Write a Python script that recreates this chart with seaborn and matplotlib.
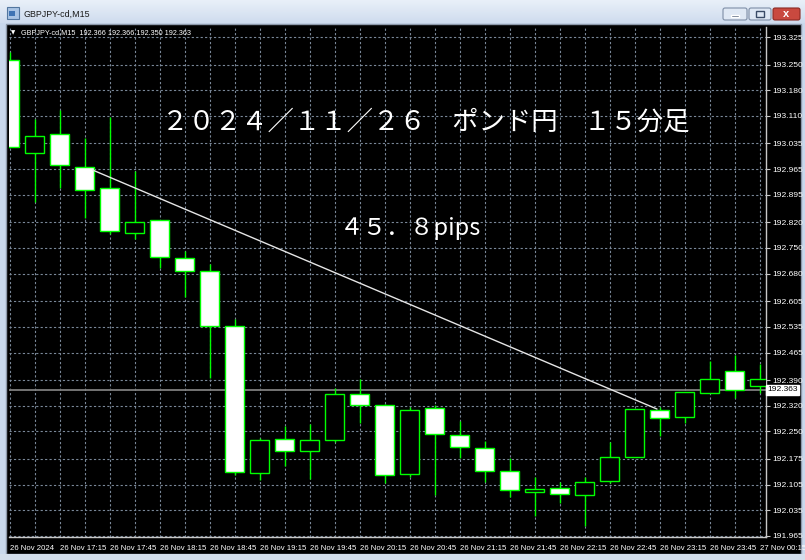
import numpy as np
import pandas as pd
import matplotlib
matplotlib.use("Agg")
import matplotlib.pyplot as plt
import seaborn as sns
from matplotlib.patches import Rectangle, FancyBboxPatch

# ---------------- data ----------------
times = ["16:45", "17:00", "17:15", "17:30", "17:45", "18:00", "18:15", "18:30",
         "18:45", "19:00", "19:15", "19:30", "19:45", "20:00", "20:15", "20:30",
         "20:45", "21:00", "21:15", "21:30", "21:45", "22:00", "22:15", "22:30",
         "22:45", "23:00", "23:15", "23:30", "23:45", "00:00", "00:15"]
opens = [193.262, 193.009, 193.061, 192.971, 192.913, 192.791, 192.826, 192.723,
         192.687, 192.537, 192.137, 192.229, 192.197, 192.227, 192.352, 192.322,
         192.134, 192.314, 192.240, 192.205, 192.142, 192.085, 192.096, 192.077,
         192.115, 192.180, 192.308, 192.289, 192.355, 192.415, 192.374]
highs = [193.284, 193.101, 193.126, 193.050, 193.107, 192.960, 192.826, 192.742,
         192.706, 192.556, 192.232, 192.265, 192.270, 192.368, 192.393, 192.325,
         192.317, 192.322, 192.278, 192.224, 192.178, 192.126, 192.112, 192.126,
         192.221, 192.311, 192.317, 192.357, 192.442, 192.458, 192.434]
lows = [193.025, 192.875, 192.913, 192.832, 192.788, 192.774, 192.695, 192.616,
        192.396, 192.131, 192.118, 192.156, 192.120, 192.221, 192.273, 192.109,
        192.126, 192.077, 192.178, 192.112, 192.071, 192.019, 192.055, 191.992,
        192.109, 192.180, 192.238, 192.273, 192.355, 192.341, 192.355]
closes = [193.025, 193.055, 192.976, 192.908, 192.796, 192.821, 192.725, 192.687,
          192.537, 192.139, 192.227, 192.197, 192.227, 192.352, 192.322, 192.131,
          192.308, 192.243, 192.208, 192.142, 192.090, 192.093, 192.079, 192.112,
          192.180, 192.311, 192.287, 192.357, 192.393, 192.363, 192.393]

ytick_labels = ["193.325", "193.250", "193.180", "193.110", "193.035", "192.965",
                "192.895", "192.820", "192.750", "192.680", "192.605", "192.535",
                "192.465", "192.390", "192.320", "192.250", "192.175", "192.105",
                "192.035", "191.965"]
xtick_labels = ["26 Nov 2024", "26 Nov 17:15", "26 Nov 17:45", "26 Nov 18:15",
                "26 Nov 18:45", "26 Nov 19:15", "26 Nov 19:45", "26 Nov 20:15",
                "26 Nov 20:45", "26 Nov 21:15", "26 Nov 21:45", "26 Nov 22:15",
                "26 Nov 22:45", "26 Nov 23:15", "26 Nov 23:45", "27 Nov 00:15"]

bid_price = 192.363
header_ohlc = ["192.366", "192.366", "192.350", "192.363"]
symbol = "GBPJPY-cd,M15"
trend_x = [3.34, 25.9]
trend_y = [192.962, 192.311]
title_jp = "２０２４／１１／２６　ポンド円　１５分足"
pips_text = "４５．８pips"

df = pd.DataFrame({"time": times, "open": opens, "high": highs,
                   "low": lows, "close": closes})
df["idx"] = np.arange(len(df))
df["bull"] = df["close"] >= df["open"]

# ---------------- style ----------------
sns.set_theme(style="dark", rc={"axes.facecolor": "black"})
plt.rcParams["font.family"] = ["Liberation Sans", "DejaVu Sans"]

W, H = 805, 560
fig = plt.figure(figsize=(W / 100, H / 100), dpi=100, facecolor="#c9d8ec")

# background / window frame
bg = fig.add_axes([0, 0, 1, 1], zorder=-10)
bg.set_xlim(0, W)
bg.set_ylim(H, 0)
bg.axis("off")
grad = np.linspace(0, 1, 50).reshape(-1, 1)
bg.imshow(grad, extent=(0, W, 23, 0), cmap=matplotlib.colors.LinearSegmentedColormap.from_list(
    "tb", ["#e9f0f9", "#cfdcee"]), aspect="auto", zorder=0)
bg.add_patch(Rectangle((5.5, 23.5), 795, 530, facecolor="black",
                       edgecolor="#8d99aa", lw=1, zorder=1))
bg.add_patch(Rectangle((0, 554), W, 6, facecolor="#d3deec", edgecolor="none", zorder=1))
# icon
bg.add_patch(Rectangle((7, 7), 12, 12, facecolor="#a9c4e4", edgecolor="#52769f", lw=0.8, zorder=2))
bg.add_patch(Rectangle((9, 11), 6, 5, facecolor="#3f74b4", edgecolor="none", zorder=3))
# buttons
bg.add_patch(FancyBboxPatch((723, 8), 24, 12, boxstyle="round,pad=0,rounding_size=2",
                            fc="#dfe8f4", ec="#7e8ea6", lw=0.8, zorder=2))
bg.add_patch(Rectangle((731, 14.5), 8, 2, facecolor="#3a4b66", zorder=3))
bg.add_patch(FancyBboxPatch((749, 8), 22, 12, boxstyle="round,pad=0,rounding_size=2",
                            fc="#dfe8f4", ec="#7e8ea6", lw=0.8, zorder=2))
bg.add_patch(Rectangle((756, 11), 8, 6, facecolor="none", edgecolor="#3a4b66", lw=1, zorder=3))
bg.add_patch(FancyBboxPatch((773, 8), 27, 12, boxstyle="round,pad=0,rounding_size=2",
                            fc="#c9493f", ec="#8b2a23", lw=0.8, zorder=2))
bg.text(786.5, 14, "x", color="white", fontsize=8, fontweight="bold",
        ha="center", va="center", zorder=4)

# ---------------- main chart ----------------
k = 0.0027255  # price per pixel
y_top = float(ytick_labels[0]) + 10 * k
y_bot = float(ytick_labels[0]) - 500 * k

ax = fig.add_axes([9 / W, 1 - 537 / H, 757 / W, 510 / H], zorder=0)
ax.set_facecolor("black")
ax.set_xlim(-0.02, 30.26)
ax.set_ylim(y_bot, y_top)

# bid line
ax.axhline(bid_price, color="#7e7e7e", lw=1.3, zorder=1.5)

# wicks
ax.vlines(df["idx"], df["low"], df["high"], color="#00ff00", lw=1, zorder=2)
# bodies
body_bottom = np.minimum(df["open"], df["close"])
body_height = np.maximum(np.abs(df["close"] - df["open"]), 0.0008)
fills = np.where(df["bull"], "black", "white")
ax.bar(df["idx"], body_height, bottom=body_bottom, width=0.75,
       color=fills, edgecolor="#00ff00", linewidth=1, zorder=3)

# trend line
sns.lineplot(x=trend_x, y=trend_y, ax=ax, color="#e6e6e6", lw=1, zorder=4)

# grid and ticks
ax.set_yticks([float(v) for v in ytick_labels])
ax.set_yticklabels(ytick_labels)
ax.yaxis.tick_right()
ax.set_xticks(np.arange(0, 31, 2))
ax.set_xticklabels(xtick_labels)
ax.set_xticks(np.arange(1, 31, 2), minor=True)
for lbl in ax.get_xticklabels():
    lbl.set_ha("left")
ax.grid(True, which="both", axis="both", color="#7a8899",
        linestyle=(0, (2, 2)), lw=0.8, zorder=0.5)
ax.set_axisbelow(True)
ax.tick_params(axis="y", which="major", direction="out", length=3, width=0.8,
               color="#c8c8c8", labelcolor="white", labelsize=6.1, pad=1.5,
               right=True, left=False, labelright=True, labelleft=False)
ax.tick_params(axis="x", which="major", direction="out", length=4, width=0.8,
               color="#c8c8c8", labelcolor="white", labelsize=5.6, pad=2)
ax.tick_params(axis="x", which="minor", length=0)
for s in ["left", "top"]:
    ax.spines[s].set_visible(False)
for s in ["right", "bottom"]:
    ax.spines[s].set_color("#c8c8c8")
    ax.spines[s].set_linewidth(1)
ax.set_xlabel("")
ax.set_ylabel("")

# current price tag
ax.text(1.002, bid_price, bid_price.__format__(".3f"), transform=ax.get_yaxis_transform(),
        ha="left", va="center", fontsize=6.1, color="black", clip_on=False,
        bbox=dict(boxstyle="square,pad=0.15", facecolor="white", edgecolor="white"))

# ---------------- texts ----------------
fig.text(23 / W, 1 - 14 / H, symbol, fontsize=6.4, color="#1a1a1a", va="center")
fig.text(11 / W, 1 - 33 / H, "▼", fontsize=4, color="white", va="center",
         family=["DejaVu Sans"])
fig.text(21 / W, 1 - 33 / H, symbol + "  " + " ".join(header_ohlc),
         fontsize=5.2, color="white", va="center")
jp_family = ["Noto Sans CJK JP", "DejaVu Sans"]
fig.text(426 / W, 1 - 122 / H, title_jp, family=jp_family, fontsize=19,
         color="white", ha="center", va="center")
fig.text(410 / W, 1 - 229 / H, pips_text, family=jp_family, fontsize=17,
         color="white", ha="center", va="center")

fig.savefig("out.png", dpi=100, facecolor=fig.get_facecolor())
